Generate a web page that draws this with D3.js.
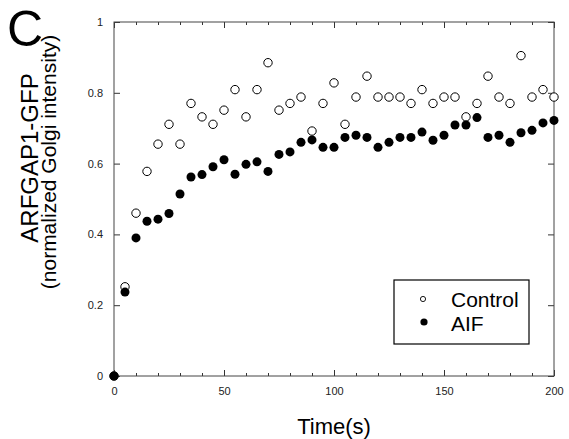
<!doctype html>
<html lang="en">
<head>
<meta charset="utf-8">
<title>ARFGAP1-GFP recovery</title>
<script src="https://cdn.jsdelivr.net/npm/d3@7"></script>
<style>
  body { margin: 0; background: #fff; }
  svg { font-family: "Liberation Sans", Arial, sans-serif; }
  .tick line { stroke: #333; }
  .tick text { fill: #222; font-size: 11px; }
</style>
</head>
<body>
<svg id="chart" width="569" height="439"></svg>
<script>
// time points (s), every 5 s
var times = [0, 5, 10, 15, 20, 25, 30, 35, 40, 45, 50, 55, 60, 65, 70, 75, 80, 85, 90, 95, 100,
             105, 110, 115, 120, 125, 130, 135, 140, 145, 150, 155, 160, 165, 170, 175, 180, 185, 190, 195, 200];

var control = [0, 0.252, 0.46, 0.578, 0.655, 0.711, 0.655, 0.77, 0.732, 0.711, 0.751, 0.809, 0.732, 0.809, 0.885,
               0.751, 0.77, 0.788, 0.692, 0.77, 0.828, 0.711, 0.788, 0.847, 0.788, 0.788, 0.788, 0.77, 0.809,
               0.77, 0.788, 0.788, 0.732, 0.77, 0.847, 0.788, 0.77, 0.905, 0.788, 0.809, 0.788];

var aif = [0, 0.237, 0.39, 0.437, 0.443, 0.459, 0.514, 0.562, 0.569, 0.591, 0.611, 0.57, 0.598, 0.605, 0.578,
           0.626, 0.633, 0.66, 0.667, 0.646, 0.646, 0.674, 0.68, 0.674, 0.646, 0.66, 0.674, 0.674, 0.689,
           0.666, 0.68, 0.709, 0.709, 0.73, 0.674, 0.68, 0.66, 0.687, 0.694, 0.715, 0.722];

var xTicks = [0, 50, 100, 150, 200];
var xMinor = [10, 20, 30, 40, 60, 70, 80, 90, 110, 120, 130, 140, 160, 170, 180, 190];
var yTicks = [0, 0.2, 0.4, 0.6, 0.8, 1];

var svg = d3.select("#chart");
var mLeft = 114, mRight = 554, mTop = 22, mBottom = 376;

var x = d3.scaleLinear().domain([0, 200]).range([mLeft, mRight]);
var y = d3.scaleLinear().domain([0, 1]).range([mBottom, mTop]);

var yFmt = function(d) { return (d === 0 || d === 1) ? String(d) : d3.format(".1f")(d); };

// axes, ticks pointing inward
svg.append("g").attr("transform", "translate(0," + mBottom + ")")
    .call(d3.axisBottom(x).tickValues(xTicks).tickSizeInner(-6).tickSizeOuter(0).tickPadding(11));
svg.append("g").attr("transform", "translate(0," + mBottom + ")")
    .call(d3.axisBottom(x).tickValues(xMinor).tickSizeInner(-3).tickSizeOuter(0).tickFormat(""));
svg.append("g").attr("transform", "translate(0," + mTop + ")")
    .call(d3.axisTop(x).tickValues(xTicks).tickSizeInner(-6).tickSizeOuter(0).tickFormat(""));
svg.append("g").attr("transform", "translate(0," + mTop + ")")
    .call(d3.axisTop(x).tickValues(xMinor).tickSizeInner(-3).tickSizeOuter(0).tickFormat(""));
svg.append("g").attr("transform", "translate(" + mLeft + ",0)")
    .call(d3.axisLeft(y).tickValues(yTicks).tickSizeInner(-6).tickSizeOuter(0).tickPadding(11).tickFormat(yFmt));
svg.append("g").attr("transform", "translate(" + mRight + ",0)")
    .call(d3.axisRight(y).tickValues(yTicks).tickSizeInner(-6).tickSizeOuter(0).tickFormat(""));

svg.selectAll(".domain").remove();
svg.selectAll(".tick text").attr("font-family", null).attr("font-size", null);

svg.append("rect")
    .attr("x", mLeft).attr("y", mTop)
    .attr("width", mRight - mLeft).attr("height", mBottom - mTop)
    .attr("fill", "none").attr("stroke", "#444").attr("stroke-width", 1);

// points
svg.append("g").selectAll("circle")
    .data(times.map(function(t, i) { return [t, control[i]]; }))
    .join("circle")
    .attr("cx", function(d) { return x(d[0]); })
    .attr("cy", function(d) { return y(d[1]); })
    .attr("r", 4.2)
    .attr("fill", "#fff").attr("stroke", "#000").attr("stroke-width", 1);

svg.append("g").selectAll("circle")
    .data(times.map(function(t, i) { return [t, aif[i]]; }))
    .join("circle")
    .attr("cx", function(d) { return x(d[0]); })
    .attr("cy", function(d) { return y(d[1]); })
    .attr("r", 4.5)
    .attr("fill", "#000");

// legend
var leg = svg.append("g");
leg.append("rect").attr("x", 394).attr("y", 280).attr("width", 135).attr("height", 64)
    .attr("fill", "#fff").attr("stroke", "#000").attr("stroke-width", 1.2);
leg.append("circle").attr("cx", 423).attr("cy", 299).attr("r", 2.6)
    .attr("fill", "#fff").attr("stroke", "#000").attr("stroke-width", 0.9);
leg.append("circle").attr("cx", 424).attr("cy", 322).attr("r", 3.6).attr("fill", "#000");
leg.append("text").attr("x", 451).attr("y", 307).attr("font-size", 21).text("Control");
leg.append("text").attr("x", 451).attr("y", 331).attr("font-size", 21).text("AIF");

// labels
svg.append("text").attr("x", 334).attr("y", 434).attr("text-anchor", "middle")
    .attr("font-size", 22).text("Time(s)");
svg.append("text").attr("transform", "translate(38,158) rotate(-90)")
    .attr("text-anchor", "middle").attr("font-size", 24).text("ARFGAP1-GFP");
svg.append("text").attr("transform", "translate(56,162) rotate(-90)")
    .attr("text-anchor", "middle").attr("font-size", 21).text("(normalized Golgi intensity)");
svg.append("text").attr("x", 7).attr("y", 46).attr("font-size", 50).text("C");
</script>
</body>
</html>
